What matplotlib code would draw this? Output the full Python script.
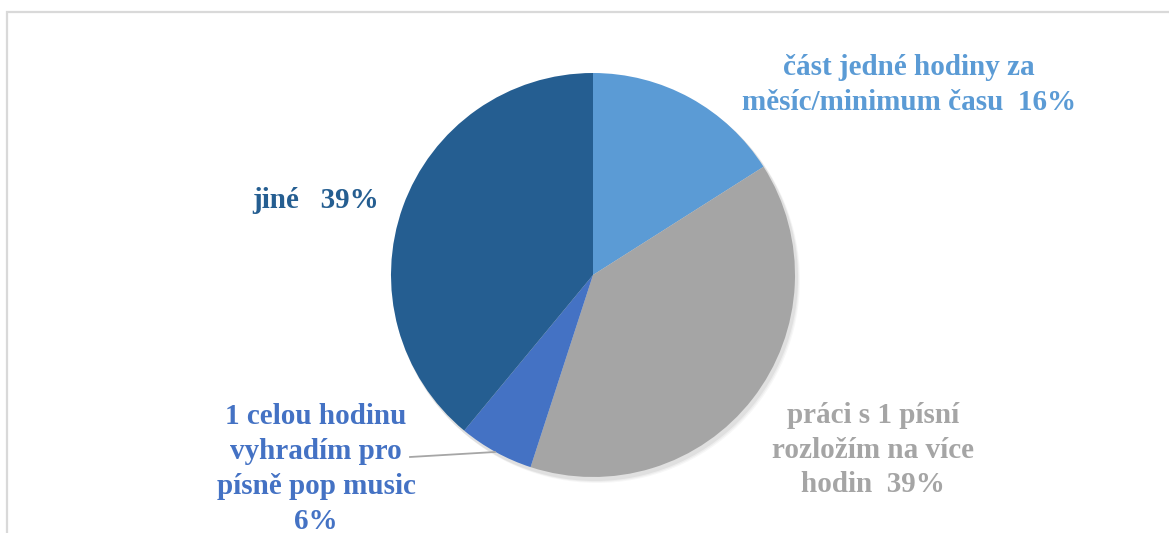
import matplotlib.pyplot as plt
from matplotlib.patches import Rectangle, Circle

# podíly odpovědí
labels = ["část jedné hodiny za\nměsíc/minimum času  16%",
          "práci s 1 písní\nrozložím na více\nhodin  39%",
          "1 celou hodinu\nvyhradím pro\npísně pop music\n6%",
          "jiné   39%"]
values = [16, 39, 6, 39]
colors = ["#5B9BD5", "#A5A5A5", "#4472C4", "#255E91"]
label_pos = [(909, 85), (873, 450), (316, 469), (316, 200)]

W, H = 1169, 533
fig = plt.figure(figsize=(W / 100, H / 100), dpi=100)
ax = fig.add_axes([0, 0, 1, 1])

# rámeček grafu
ax.add_patch(Rectangle((7, -20), W + 20, H - 12 + 20, fill=False,
                       edgecolor="#D9D9D9", linewidth=1.6))

cx, cy, r = 593, H - 275, 202
# jemný stín
for i, a in enumerate([0.05, 0.04, 0.03]):
    ax.add_patch(Circle((cx + 2 + i, cy - 3 - i), r + 1, color="black",
                        alpha=a, linewidth=0, zorder=1))

wedges, _ = ax.pie(values, colors=colors, startangle=90, counterclock=False,
                   center=(cx, cy), radius=r, frame=True,
                   wedgeprops=dict(linewidth=0, zorder=2))
ax.set_xlim(0, W)
ax.set_ylim(0, H)
ax.set_aspect("equal")
ax.axis("off")

for lab, (x, y), c in zip(labels, label_pos, colors):
    ax.text(x, H - y, lab, ha="center", va="center", color=c,
            fontsize=21, fontweight="bold", family="Liberation Serif",
            linespacing=1.38, zorder=5)

# vodicí čára k malé výseči
ax.plot([410, 495], [H - 457, H - 452], color="#A6A6A6", linewidth=1.3, zorder=3)

fig.savefig("out.png", dpi=100)
